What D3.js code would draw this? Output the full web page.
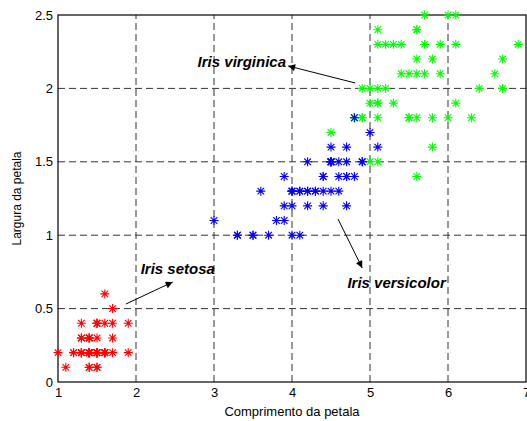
<!DOCTYPE html>
<html>
<head>
<meta charset="utf-8">
<script src="https://cdn.jsdelivr.net/npm/d3@7"></script>
<style>
body{margin:0;background:#fff;}
text{font-family:Arial,"Liberation Sans",sans-serif;}
</style>
</head>
<body>
<svg id="chart" width="527" height="421"></svg>
<script>
// Data (petal length, petal width)
const setosaLength = [1.4,1.4,1.3,1.5,1.4,1.7,1.4,1.5,1.4,1.5,1.5,1.6,1.4,1.1,1.2,1.5,1.3,1.4,1.7,1.5,1.7,1.5,1.0,1.7,1.9,1.6,1.6,1.5,1.4,1.6,1.6,1.5,1.5,1.4,1.5,1.2,1.3,1.4,1.3,1.5,1.3,1.3,1.3,1.6,1.9,1.4,1.6,1.4,1.5,1.4];
const setosaWidth  = [0.2,0.2,0.2,0.2,0.2,0.4,0.3,0.2,0.2,0.1,0.2,0.2,0.1,0.1,0.2,0.4,0.4,0.3,0.3,0.3,0.2,0.4,0.2,0.5,0.2,0.2,0.4,0.2,0.2,0.2,0.2,0.4,0.1,0.2,0.2,0.2,0.2,0.1,0.2,0.2,0.3,0.3,0.2,0.6,0.4,0.3,0.2,0.2,0.2,0.2];
const versicolorLength = [4.7,4.5,4.9,4.0,4.6,4.5,4.7,3.3,4.6,3.9,3.5,4.2,4.0,4.7,3.6,4.4,4.5,4.1,4.5,3.9,4.8,4.0,4.9,4.7,4.3,4.4,4.8,5.0,4.5,3.5,3.8,3.7,3.9,5.1,4.5,4.5,4.7,4.4,4.1,4.0,4.4,4.6,4.0,3.3,4.2,4.2,4.2,4.3,3.0,4.1];
const versicolorWidth  = [1.4,1.5,1.5,1.3,1.5,1.3,1.6,1.0,1.3,1.4,1.0,1.5,1.0,1.4,1.3,1.4,1.5,1.0,1.5,1.1,1.8,1.3,1.5,1.2,1.3,1.4,1.4,1.7,1.5,1.0,1.1,1.0,1.2,1.6,1.5,1.6,1.5,1.3,1.3,1.3,1.2,1.4,1.2,1.0,1.3,1.2,1.3,1.3,1.1,1.3];
const virginicaLength = [6.0,5.1,5.9,5.6,5.8,6.6,4.5,6.3,5.8,6.1,5.1,5.3,5.5,5.0,5.1,5.3,5.5,6.7,6.9,5.0,5.7,4.9,6.7,4.9,5.7,6.0,4.8,4.9,5.6,5.8,6.1,6.4,5.6,5.1,5.6,6.1,5.6,5.5,4.8,5.4,5.6,5.1,5.1,5.9,5.7,5.2,5.0,5.2,5.4,5.1];
const virginicaWidth  = [2.5,1.9,2.1,1.8,2.2,2.1,1.7,1.8,1.8,2.5,2.0,1.9,2.1,2.0,2.4,2.3,1.8,2.2,2.3,1.5,2.3,2.0,2.0,1.8,2.1,1.8,1.8,1.8,2.1,1.6,1.9,2.0,2.2,1.5,1.4,2.3,2.4,1.8,1.8,2.1,2.4,2.3,1.9,2.3,2.5,2.3,1.9,2.0,2.3,1.8];

const xTicks = [1,2,3,4,5,6,7];
const yTicks = [0,0.5,1,1.5,2,2.5];
const xLabel = "Comprimento da petala";
const yLabel = "Largura da petala";

// annotations in data coordinates
const annotLabels = ["Iris virginica","Iris setosa","Iris versicolor"];
const annotTextX = [2.79, 2.06, 4.71];
const annotTextY = [2.146, 0.736, 0.64];
const arrowFromX = [4.81, 1.87, 4.59];
const arrowFromY = [2.037, 0.531, 1.11];
const arrowToX   = [3.95, 2.47, 4.90];
const arrowToY   = [2.153, 0.681, 0.777];

const series = [
  {name:"setosa", color:"#ff0000", xs:setosaLength, ys:setosaWidth},
  {name:"virginica", color:"#00ff00", xs:virginicaLength, ys:virginicaWidth},
  {name:"versicolor", color:"#0000ff", xs:versicolorLength, ys:versicolorWidth}
];

const margin = {left:58, right:1, top:15, bottom:39};
const W = 527, H = 421;
const svg = d3.select("#chart");
const x = d3.scaleLinear().domain([1,7]).range([margin.left, W - margin.right]);
const y = d3.scaleLinear().domain([0,2.5]).range([H - margin.bottom, margin.top]);

// grid
const grid = svg.append("g");
grid.selectAll("line.gx").data(xTicks.slice(1,-1)).enter().append("line")
  .attr("x1", d=>x(d)).attr("x2", d=>x(d)).attr("y1", y(0)).attr("y2", y(2.5))
  .attr("stroke","#333").attr("stroke-width",1).attr("stroke-dasharray","7,4");
grid.selectAll("line.gy").data(yTicks.slice(1,-1)).enter().append("line")
  .attr("y1", d=>y(d)).attr("y2", d=>y(d)).attr("x1", x(1)).attr("x2", x(7))
  .attr("stroke","#333").attr("stroke-width",1).attr("stroke-dasharray","7,4");

// axes
const xAxis = d3.axisBottom(x).tickValues(xTicks).tickSize(0).tickPadding(6).tickFormat(d3.format("d"));
const yAxis = d3.axisLeft(y).tickValues(yTicks).tickSize(0).tickPadding(5).tickFormat(d=>String(d));
const gx = svg.append("g").attr("transform",`translate(0,${y(0)})`).call(xAxis);
const gy = svg.append("g").attr("transform",`translate(${x(1)},0)`).call(yAxis);
[gx,gy].forEach(g=>{
  g.select(".domain").remove();
  g.selectAll("text").attr("font-size",13).attr("fill","#000").attr("font-family","Arial, 'Liberation Sans', sans-serif");
});

// box
svg.append("rect").attr("x",x(1)).attr("y",y(2.5)).attr("width",x(7)-x(1)).attr("height",y(0)-y(2.5))
  .attr("fill","none").attr("stroke","#000").attr("stroke-width",1.2);

// markers (asterisk)
const r = 4.5, rd = 3.3;
const star = `M${-r},0L${r},0M0,${-r}L0,${r}M${-rd},${-rd}L${rd},${rd}M${-rd},${rd}L${rd},${-rd}`;
series.forEach(s=>{
  const pts = s.xs.map((v,i)=>[v, s.ys[i]]);
  svg.append("g").selectAll("path").data(pts).enter().append("path")
    .attr("d", star)
    .attr("transform", d=>`translate(${x(d[0])},${y(d[1])})`)
    .attr("stroke", s.color).attr("stroke-width",1.1).attr("fill","none");
});

// annotations
const defs = svg.append("defs");
defs.append("marker").attr("id","ah").attr("viewBox","0 0 10 10").attr("refX",10).attr("refY",5)
  .attr("markerWidth",10).attr("markerHeight",7).attr("markerUnits","userSpaceOnUse").attr("orient","auto")
  .append("path").attr("d","M0,0L10,5L0,10z").attr("fill","#000");
annotLabels.forEach((t,i)=>{
  svg.append("line")
    .attr("x1",x(arrowFromX[i])).attr("y1",y(arrowFromY[i]))
    .attr("x2",x(arrowToX[i])).attr("y2",y(arrowToY[i]))
    .attr("stroke","#000").attr("stroke-width",1).attr("marker-end","url(#ah)");
  svg.append("text").attr("x",x(annotTextX[i])).attr("y",y(annotTextY[i]))
    .attr("font-size",15).attr("font-weight","bold").attr("font-style","italic").attr("fill","#000")
    .text(t);
});

// axis labels
svg.append("text").attr("x",(x(1)+x(7))/2).attr("y",416).attr("text-anchor","middle")
  .attr("font-size",13).text(xLabel);
svg.append("text").attr("transform",`translate(21,${(y(0)+y(2.5))/2}) rotate(-90)`).attr("text-anchor","middle")
  .attr("font-size",12).text(yLabel);
</script>
</body>
</html>
